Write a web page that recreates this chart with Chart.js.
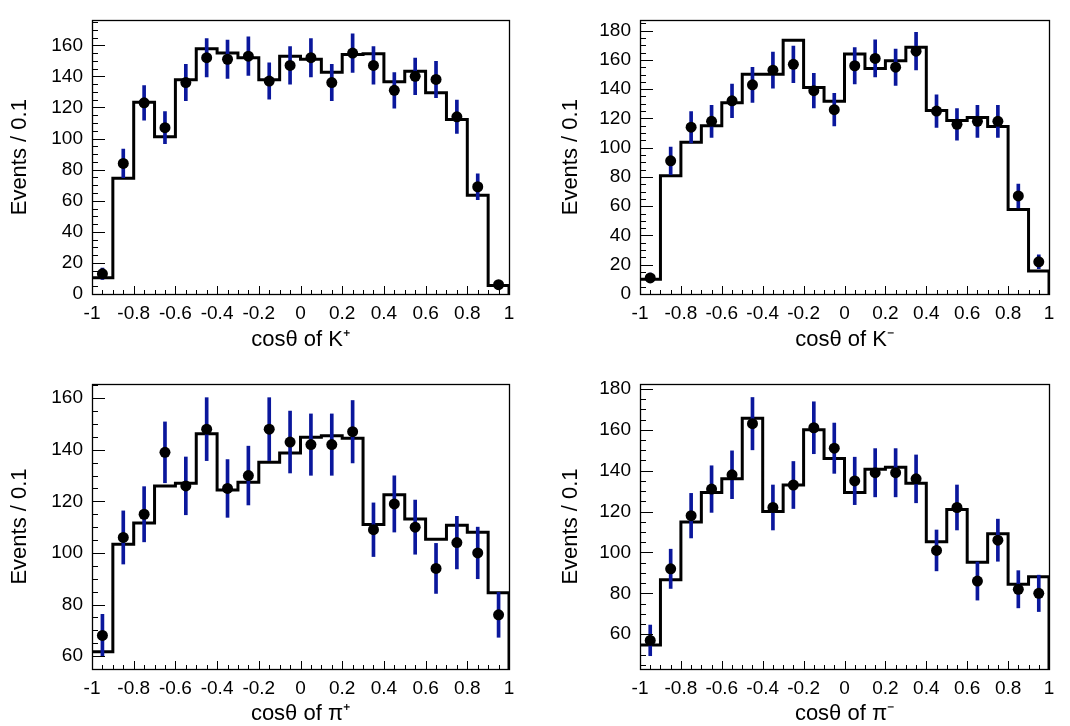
<!DOCTYPE html>
<html>
<head>
<meta charset="utf-8">
<script src="https://cdn.jsdelivr.net/npm/chart.js@4.4.1/dist/chart.umd.min.js"></script>
<style>
  html, body { margin: 0; padding: 0; background: #fff; }
  #wrap { position: relative; width: 1070px; height: 726px; }
  .pane { position: absolute; width: 535px; height: 363px; }
</style>
</head>
<body>
<div id="wrap">
  <div class="pane" style="left:0;top:0"><canvas id="kplus" width="535" height="363"></canvas></div>
  <div class="pane" style="left:535px;top:0"><canvas id="kminus" width="535" height="363"></canvas></div>
  <div class="pane" style="left:0;top:363px"><canvas id="piplus" width="535" height="363"></canvas></div>
  <div class="pane" style="left:535px;top:363px"><canvas id="piminus" width="535" height="363"></canvas></div>
</div>
<script>
// bins of cos(theta), width 0.1
const binEdges   = [-1, -0.9, -0.8, -0.7, -0.6, -0.5, -0.4, -0.3, -0.2, -0.1, 0,
                    0.1, 0.2, 0.3, 0.4, 0.5, 0.6, 0.7, 0.8, 0.9, 1];
const binCenters = [-0.95, -0.85, -0.75, -0.65, -0.55, -0.45, -0.35, -0.25, -0.15, -0.05,
                    0.05, 0.15, 0.25, 0.35, 0.45, 0.55, 0.65, 0.75, 0.85, 0.95];

// K+ : data points, errors, MC histogram
const kPlusData = [13, 84, 123, 107, 136, 152, 151, 153, 137, 147, 152, 136, 155, 147, 131, 140, 138, 114, 69, 6];
const kPlusErr  = [3.6, 9.2, 11.1, 10.3, 11.7, 12.3, 12.3, 12.4, 11.7, 12.1, 12.3, 11.7, 12.4, 12.1, 11.4, 11.8, 11.7, 10.7, 8.3, 2.4];
const kPlusMC   = [10.5, 74.4, 123.4, 101.2, 137.8, 157.7, 155, 152, 137.8, 153, 151, 142.7, 154, 154.6, 136.5, 143.3, 129.4, 112.3, 63.5, 5.5];

// K-
const kMinusData = [11, 91, 114, 118, 132, 143, 153, 157, 139, 126, 156, 161, 155, 166, 125, 116, 118, 118, 67, 22];
const kMinusErr  = [3.3, 9.5, 10.7, 10.9, 11.5, 12.0, 12.4, 12.5, 11.8, 11.2, 12.5, 12.7, 12.4, 12.9, 11.2, 10.8, 10.9, 10.9, 8.2, 4.7];
const kMinusMC   = [10, 80.8, 103.8, 115, 130.7, 150.2, 150.2, 173.4, 141.2, 131.8, 164, 154.1, 159.4, 168.6, 125.5, 118.5, 120.6, 114.5, 57.8, 15.8];

// pi+
const piPlusData = [68, 106, 115, 139, 126, 148, 125, 130, 148, 143, 142, 142, 147, 109, 119, 110, 94, 104, 100, 76];
const piPlusErr  = [8.2, 10.3, 10.7, 11.8, 11.2, 12.2, 11.2, 11.4, 12.2, 12.0, 11.9, 11.9, 12.1, 10.4, 10.9, 10.5, 9.7, 10.2, 10.0, 8.7];
const piPlusMC   = [61.7, 103.4, 111.6, 126, 127, 146.2, 124.4, 127.4, 135.2, 138.7, 144.9, 145.4, 144.5, 111, 122.6, 113.2, 105.3, 110.7, 108, 84.6];

// pi-
const piMinusData = [57, 92, 118, 131, 138, 163, 122, 133, 161, 151, 135, 139, 139, 136, 101, 122, 86, 106, 82, 80];
const piMinusErr  = [7.5, 9.6, 10.9, 11.4, 11.7, 12.8, 11.0, 11.5, 12.7, 12.3, 11.6, 11.8, 11.8, 11.7, 10.0, 11.0, 9.3, 10.3, 9.1, 8.9];
const piMinusMC   = [54.8, 86.6, 114.9, 129.3, 136.1, 165.7, 120, 133, 160, 146, 129.3, 140.7, 141.7, 133.9, 105.3, 121, 95.2, 109.1, 84.5, 88.1];

const FONT = "'Liberation Sans', Arial, Helvetica, sans-serif";
const ERR_BLUE = '#0a179c';

// ROOT-like frame with inner tick marks
const rootFrame = {
  id: 'rootFrame',
  afterDatasetsDraw(chart) {
    const { ctx, chartArea: a, scales: { x, y } } = chart;
    ctx.save();
    ctx.strokeStyle = '#000';
    ctx.lineWidth = 1;
    ctx.beginPath();
    for (let i = 0; i <= 40; i++) {
      const px = Math.round(x.getPixelForValue(-1 + i * 0.05)) + 0.5;
      const len = i % 4 === 0 ? 8 : 4;
      ctx.moveTo(px, a.bottom);
      ctx.lineTo(px, a.bottom - len);
    }
    const start = Math.ceil(y.min / 5) * 5;
    for (let v = start; v <= y.max; v += 5) {
      const py = Math.round(y.getPixelForValue(v)) + 0.5;
      const len = v % 20 === 0 ? 13 : 6;
      ctx.moveTo(a.left, py);
      ctx.lineTo(a.left + len, py);
    }
    ctx.stroke();
    ctx.lineWidth = 1.3;
    ctx.strokeRect(Math.round(a.left) + 0.5, Math.round(a.top) + 0.5,
                   Math.round(a.right - a.left), Math.round(a.bottom - a.top));
    ctx.restore();
  }
};

// histogram outline: left edge of each bin, then drop at the right end
function histPoints(vals, yMin) {
  const pts = vals.map((v, i) => ({ x: binEdges[i], y: v }));
  pts.push({ x: binEdges[20], y: vals[19] });
  pts.push({ x: binEdges[20], y: yMin });
  return pts;
}

function drawPanel(id, p) {
  const canvas = document.getElementById(id);
  new Chart(canvas, {
    type: 'scatter',
    data: {
      datasets: [
        {
          type: 'scatter',
          data: p.data.map((v, i) => ({ x: binCenters[i], y: v })),
          backgroundColor: '#000',
          borderColor: '#000',
          pointRadius: 5.5,
          pointBorderWidth: 0,
          order: 1
        },
        {
          type: 'bar',
          data: p.data.map((v, i) => ({ x: binCenters[i], y: [v - p.err[i], v + p.err[i]] })),
          backgroundColor: ERR_BLUE,
          borderWidth: 0,
          barThickness: 3,
          order: 2
        },
        {
          type: 'line',
          data: histPoints(p.mc, p.yMin),
          stepped: 'before',
          borderColor: '#000',
          borderWidth: 3,
          pointRadius: 0,
          fill: false,
          order: 3
        }
      ]
    },
    options: {
      responsive: false,
      animation: false,
      devicePixelRatio: 1,
      events: [],
      layout: { padding: { top: p.padTop, right: p.padRight, left: 0, bottom: 0 } },
      plugins: { legend: { display: false }, tooltip: { enabled: false } },
      scales: {
        x: {
          type: 'linear',
          min: -1,
          max: 1,
          offset: false,
          grid: { display: false, drawTicks: false },
          border: { display: false },
          ticks: {
            stepSize: 0.2,
            padding: 8,
            color: '#000',
            font: { family: FONT, size: 19 },
            maxRotation: 0,
            callback: v => String(Math.round(v * 10) / 10)
          },
          title: {
            display: true,
            text: p.xTitle,
            color: '#000',
            font: { family: FONT, size: 22, lineHeight: 1 },
            padding: { top: 0, bottom: p.xTitlePad }
          },
          afterFit: s => { s.height = p.xHeight; }
        },
        y: {
          type: 'linear',
          min: p.yMin,
          max: p.yMax,
          grid: { display: false, drawTicks: false },
          border: { display: false },
          ticks: {
            stepSize: 20,
            includeBounds: false,
            padding: 9,
            color: '#000',
            font: { family: FONT, size: 19 },
            callback: v => (Math.abs(v % 20) < 1e-6 ? String(v) : null)
          },
          title: {
            display: true,
            text: 'Events / 0.1',
            color: '#000',
            font: { family: FONT, size: 22, lineHeight: 1 },
            padding: { top: p.yTitlePad, bottom: 0 }
          },
          afterFit: s => { s.width = p.yWidth; }
        }
      }
    },
    plugins: [rootFrame]
  });
}

drawPanel('kplus', {
  data: kPlusData, err: kPlusErr, mc: kPlusMC,
  yMin: 0, yMax: 176, xTitle: 'cosθ of K⁺',
  padTop: 9, padRight: 26, yWidth: 92, xHeight: 69, yTitlePad: 9, xTitlePad: 12
});
drawPanel('kminus', {
  data: kMinusData, err: kMinusErr, mc: kMinusMC,
  yMin: 0, yMax: 187, xTitle: 'cosθ of K⁻',
  padTop: 9, padRight: 21, yWidth: 105, xHeight: 69, yTitlePad: 25, xTitlePad: 12
});
drawPanel('piplus', {
  data: piPlusData, err: piPlusErr, mc: piPlusMC,
  yMin: 55, yMax: 165.5, xTitle: 'cosθ of π⁺',
  padTop: 21, padRight: 26, yWidth: 92, xHeight: 57, yTitlePad: 9, xTitlePad: 1
});
drawPanel('piminus', {
  data: piMinusData, err: piMinusErr, mc: piMinusMC,
  yMin: 43, yMax: 182.4, xTitle: 'cosθ of π⁻',
  padTop: 21, padRight: 21, yWidth: 105, xHeight: 57, yTitlePad: 25, xTitlePad: 1
});
</script>
</body>
</html>
